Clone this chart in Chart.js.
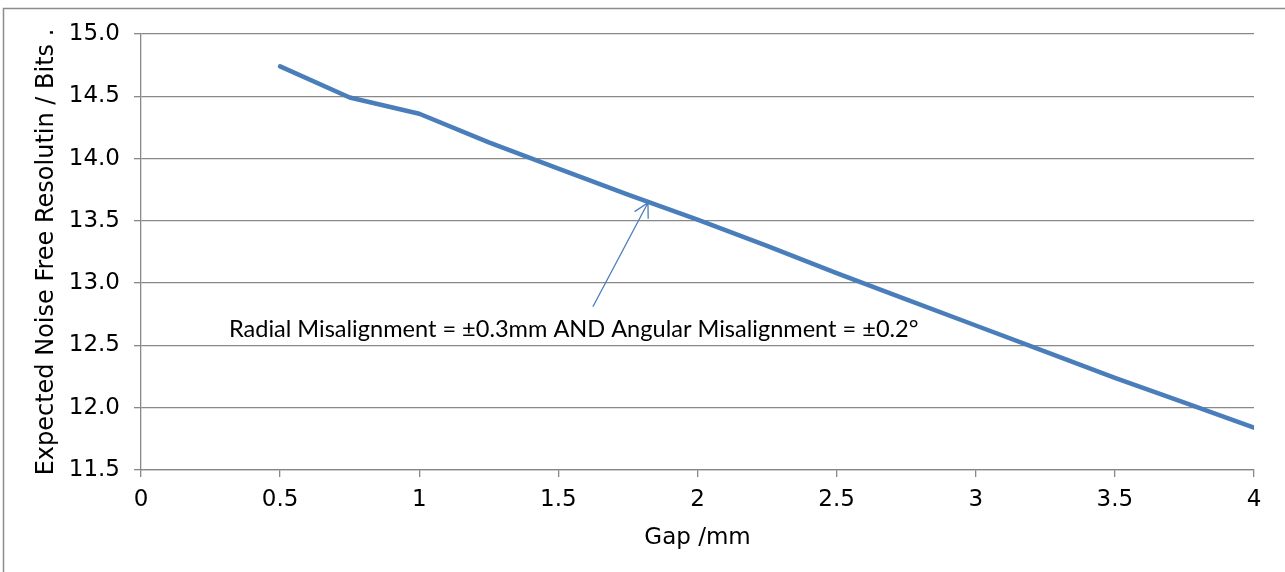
<!DOCTYPE html>
<html>
<head>
<meta charset="utf-8">
<script src="https://cdn.jsdelivr.net/npm/chart.js@4/dist/chart.umd.min.js"></script>
<style>
  html, body { margin: 0; padding: 0; background: #fff; overflow: hidden; }
  #wrap { position: relative; width: 1285px; height: 572px; }
</style>
</head>
<body>
<div id="wrap"><canvas id="chart" width="1285" height="572"></canvas></div>
<script>
// values
const gapMm = [0.5, 0.75, 1.0, 1.25, 1.5, 1.75, 2.0, 2.25, 2.5, 2.75, 3.0, 3.25, 3.5, 3.75, 4.0];
const resolutionBits = [14.74, 14.49, 14.36, 14.13, 13.92, 13.71, 13.51, 13.30, 13.08, 12.87, 12.66, 12.45, 12.24, 12.04, 11.84];
const xTicks = [0, 0.5, 1, 1.5, 2, 2.5, 3, 3.5, 4];
const yTicks = [11.5, 12.0, 12.5, 13.0, 13.5, 14.0, 14.5, 15.0];
const noteText = 'Radial Misalignment = \u00b10.3mm AND Angular Misalignment = \u00b10.2\u00b0';
const noteAt = {x: 0.316, y: 12.57};
const arrowFrom = {x: 1.624, y: 12.81};
const arrowTo = {x: 1.822, y: 13.645};

const blue = '#4A7EBB';
const grid = '#888888';
const axisFont = {family: '"DejaVu Sans", Verdana, sans-serif', size: 23};
const yTitleFont = {family: '"DejaVu Sans", Verdana, sans-serif', size: 24};

// outer frame of the chart object
const framePlugin = {
  id: 'frame',
  beforeDraw(chart) {
    const ctx = chart.ctx;
    ctx.save();
    ctx.fillStyle = '#fff';
    ctx.fillRect(0, 0, chart.width, chart.height);
    ctx.strokeStyle = '#8c8c8c';
    ctx.lineWidth = 1.5;
    ctx.strokeRect(3.5, 8.5, chart.width + 20, chart.height + 20);
    ctx.restore();
  }
};

// text box + arrow pointing at the line
const notePlugin = {
  id: 'note',
  afterDatasetsDraw(chart) {
    const ctx = chart.ctx;
    const xs = chart.scales.x, ys = chart.scales.y;
    ctx.save();
    ctx.font = '22px Lato, "Open Sans", sans-serif';
    let w = ctx.measureText(noteText).width;
    let size = 22 * 690 / w;
    ctx.font = size.toFixed(2) + 'px Lato, "Open Sans", sans-serif';
    ctx.fillStyle = '#000';
    ctx.textBaseline = 'alphabetic';
    ctx.fillText(noteText, xs.getPixelForValue(noteAt.x), ys.getPixelForValue(noteAt.y));

    const x0 = xs.getPixelForValue(arrowFrom.x), y0 = ys.getPixelForValue(arrowFrom.y);
    const x1 = xs.getPixelForValue(arrowTo.x), y1 = ys.getPixelForValue(arrowTo.y);
    ctx.strokeStyle = blue;
    ctx.lineWidth = 1.3;
    ctx.beginPath();
    ctx.moveTo(x0, y0);
    ctx.lineTo(x1, y1);
    const ang = Math.atan2(y0 - y1, x0 - x1);
    const len = 16, spread = 0.5;
    ctx.moveTo(x1 + len * Math.cos(ang - spread), y1 + len * Math.sin(ang - spread));
    ctx.lineTo(x1, y1);
    ctx.lineTo(x1 + len * Math.cos(ang + spread), y1 + len * Math.sin(ang + spread));
    ctx.stroke();
    ctx.restore();
  }
};

new Chart(document.getElementById('chart'), {
  type: 'line',
  data: {
    datasets: [{
      data: gapMm.map((g, i) => ({x: g, y: resolutionBits[i]})),
      borderColor: blue,
      borderWidth: 4.5,
      borderCapStyle: 'round',
      borderJoinStyle: 'round',
      pointRadius: 0,
      tension: 0,
      fill: false
    }]
  },
  options: {
    responsive: false,
    devicePixelRatio: 1,
    animation: false,
    events: [],
    layout: {padding: {left: 0, top: 34, right: 31, bottom: 0}},
    plugins: {legend: {display: false}, tooltip: {enabled: false}},
    scales: {
      x: {
        type: 'linear',
        min: 0, max: 4,
        afterBuildTicks: s => { s.ticks = xTicks.map(v => ({value: v})); },
        afterFit: s => { s.height = 102; },
        grid: {display: true, drawOnChartArea: false, drawTicks: true, tickLength: 7, color: grid, lineWidth: 1.3},
        border: {display: true, color: grid, width: 1.3},
        ticks: {color: '#000', font: axisFont, padding: 9, maxRotation: 0, autoSkip: false,
          callback: v => String(v)},
        title: {display: true, text: 'Gap /mm', color: '#000', font: axisFont, padding: {top: 0, bottom: 20}}
      },
      y: {
        type: 'linear',
        min: 11.5, max: 15,
        afterBuildTicks: s => { s.ticks = yTicks.map(v => ({value: v})); },
        afterFit: s => { s.width = 141; },
        grid: {display: true, drawOnChartArea: true, drawTicks: true, tickLength: 7, color: grid, lineWidth: 1.3},
        border: {display: true, color: grid, width: 1.3},
        ticks: {color: '#000', font: axisFont, padding: 14, autoSkip: false,
          callback: v => Number(v).toFixed(1)},
        title: {display: true, text: 'Expected Noise Free Resolutin / Bits .', color: '#000', font: yTitleFont, padding: {top: 32, bottom: 0}}
      }
    }
  },
  plugins: [framePlugin, notePlugin]
});
</script>
</body>
</html>
